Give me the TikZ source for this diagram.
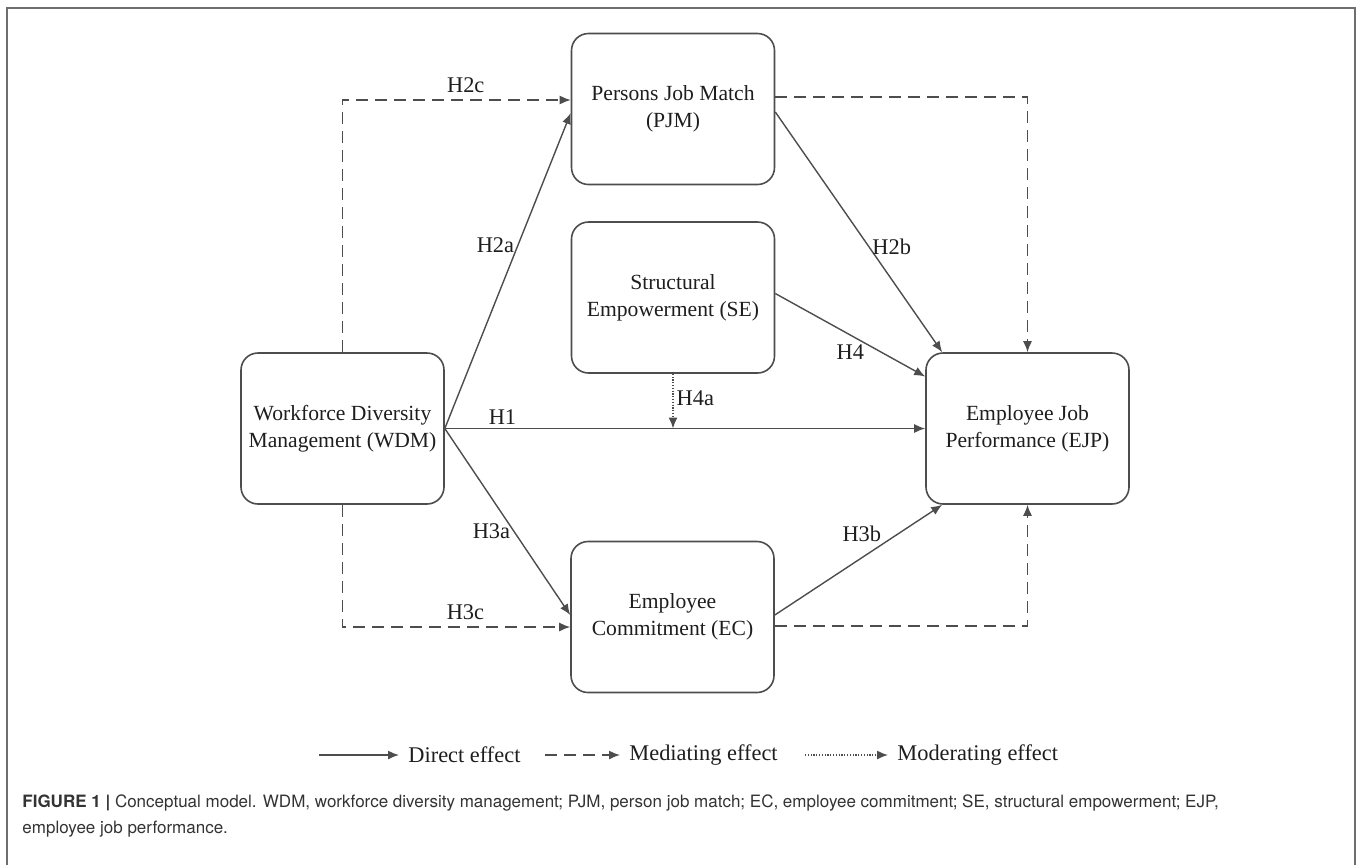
\documentclass[tikz,border=0pt]{standalone}
\usepackage{fontspec}
\setmainfont{Liberation Serif}
\setsansfont{TeX Gyre Heros}
\usetikzlibrary{arrows.meta,calc}
\definecolor{linegray}{HTML}{4D4D4D}
\definecolor{textgray}{HTML}{1E1E1E}
\definecolor{capgray}{HTML}{333333}
\definecolor{framegray}{HTML}{6E6E6E}

\begin{document}
\begin{tikzpicture}[x=0.5pt,y=-0.5pt,
  main node/.style={rectangle,rounded corners=8.5pt,draw=linegray,line width=0.8pt,
    minimum width=101.5pt,minimum height=75.5pt,align=center,
    font=\fontsize{10.8}{13.5}\selectfont,text=textgray},
  direct/.style={draw=linegray,line width=0.7pt,-{Latex[length=5.5pt,width=4.5pt]}},
  mediate/.style={direct,dash pattern=on 6pt off 3.5pt},
  moderate/.style={direct,dash pattern=on 0.6pt off 0.8pt},
  hyp/.style={font=\fontsize{11.2}{13}\selectfont,text=textgray,inner sep=1.5pt}]

  \useasboundingbox (0,0) rectangle (1358,864);
  \draw[framegray,line width=1pt] (7,870) -- (7,8) -- (1355,8) -- (1355,870);

  \node[main node] (wdm) at (342.5,428.5) {Workforce Diversity\\Management (WDM)};
  \node[main node] (pjm) at (673,109) {Persons Job Match\\(PJM)};
  \node[main node] (se) at (673,297.5) {Structural\\Empowerment (SE)};
  \node[main node] (ec) at (672.5,617) {Employee\\Commitment (EC)};
  \node[main node] (ejp) at (1027.5,428.5) {Employee Job\\Performance (EJP)};

  \coordinate (ejptop) at ($(ejp.north west)+(17,0)$);
  \coordinate (ejpbot) at ($(ejp.south west)+(17,0)$);
  \coordinate (h4a) at (se.south |- wdm.east);

  \path[every node/.style={hyp}]
   (wdm.east) edge[direct] node[pos=0.12,above]{H1} (ejp.west)
   (wdm.east) edge[direct] node[pos=0.58,left]{H2a} ([yshift=-2pt]pjm.west)
   (wdm.east) edge[direct] node[pos=0.55,left]{H3a} ([yshift=1pt]ec.west)
   ([yshift=-1.5pt]pjm.east) edge[direct] node[pos=0.56,right]{H2b} (ejptop)
   ([yshift=2pt]se.east) edge[direct] node[pos=0.5,below=3pt]{H4} ([yshift=26pt]ejp.west)
   ([yshift=1pt]ec.east) edge[direct] node[pos=0.52,above=6pt]{H3b} (ejpbot)
   (se.south) edge[moderate] node[pos=0.45,right]{H4a} (h4a);

  \draw[mediate] (wdm.north) |- node[pos=0.77,above=2pt,hyp]{H2c} ([yshift=4.5pt]pjm.west);
  \draw[mediate] (wdm.south) |- node[pos=0.77,above=2pt,hyp]{H3c} ([yshift=-5pt]ec.west);
  \draw[mediate] ([yshift=6pt]pjm.east) -| (ejp.north);
  \draw[mediate] ([yshift=-4.5pt]ec.east) -| (ejp.south);

  % legend
  \coordinate (l1) at (319,755);
  \coordinate (l2) at (545,755);
  \coordinate (l3) at (805,755);
  \node[hyp,anchor=west] (ldirect) at (405,755) {Direct effect};
  \node[hyp,anchor=west] (lmediate) at (626,755) {Mediating effect};
  \node[hyp,anchor=west] (lmoderate) at (894,755) {Moderating effect};
  \draw[direct,shorten >=3pt] (l1) -- (ldirect.west);
  \draw[mediate,shorten >=3pt] (l2) -- (lmediate.west);
  \draw[moderate,shorten >=3pt] (l3) -- (lmoderate.west);

  % caption
  \node[anchor=base west,align=left,inner sep=0pt,text=capgray,
    font=\sffamily\fontsize{8.5}{13}\selectfont] (caption) at (22,833)
    {\textbf{FIGURE 1 |} Conceptual model. WDM, workforce diversity management; PJM, person job match; EC, employee commitment; SE, structural empowerment; EJP,\\
     employee job performance.};
\end{tikzpicture}
\end{document}
